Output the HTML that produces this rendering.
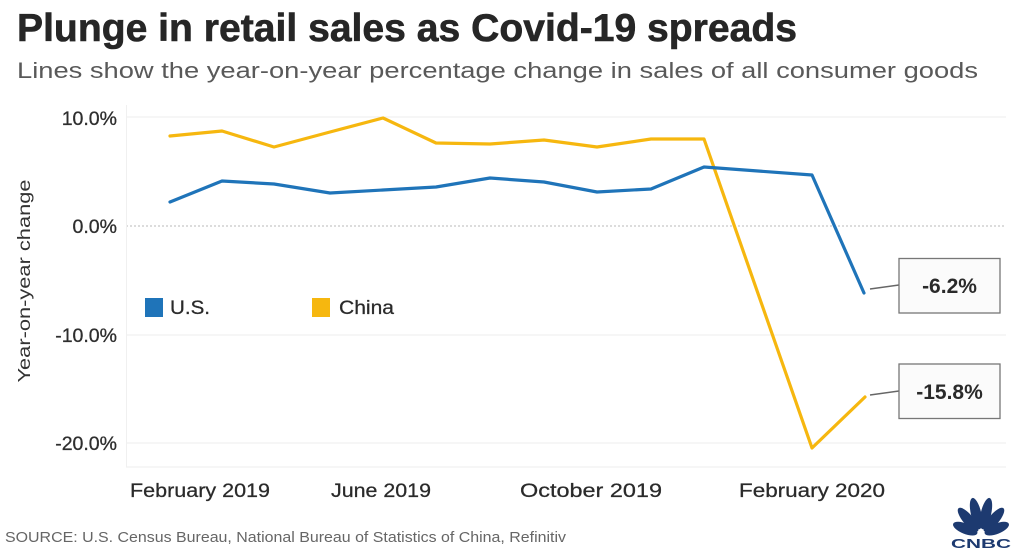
<!DOCTYPE html>
<html><head><meta charset="utf-8"><style>
html,body{margin:0;padding:0;background:#fff;}
svg{display:block;}
text{font-family:"Liberation Sans",Arial,sans-serif;}
</style></head><body>
<svg width="1024" height="555" viewBox="0 0 1024 555" xmlns="http://www.w3.org/2000/svg">
<rect width="1024" height="555" fill="#fff"/>
<!-- Title -->
<text x="17" y="41" font-size="38.5" font-weight="bold" fill="#262626" stroke="#262626" stroke-width="0.6" textLength="780" lengthAdjust="spacingAndGlyphs">Plunge in retail sales as Covid-19 spreads</text>
<text x="17" y="78" font-size="22" fill="#595959" textLength="961" lengthAdjust="spacingAndGlyphs">Lines show the year-on-year percentage change in sales of all consumer goods</text>

<!-- grid -->
<line x1="126" y1="117" x2="1006" y2="117" stroke="#ececec" stroke-width="1"/>
<line x1="126" y1="226" x2="1006" y2="226" stroke="#c8c8c8" stroke-width="1.2" stroke-dasharray="2,2"/>
<line x1="126" y1="335" x2="1006" y2="335" stroke="#ececec" stroke-width="1"/>
<line x1="126" y1="443" x2="1006" y2="443" stroke="#ececec" stroke-width="1"/>
<line x1="126" y1="467" x2="1006" y2="467" stroke="#ececec" stroke-width="1"/>
<line x1="126.5" y1="105" x2="126.5" y2="467" stroke="#f0f0f0" stroke-width="1"/>

<!-- y tick labels -->
<g font-size="19.5" fill="#2e2e2e" stroke="#2e2e2e" stroke-width="0.3" text-anchor="end">
<text x="117" y="125">10.0%</text>
<text x="117" y="233">0.0%</text>
<text x="117" y="342">-10.0%</text>
<text x="117" y="450">-20.0%</text>
</g>
<text transform="translate(30,281) rotate(-90)" font-size="17.5" fill="#333" text-anchor="middle" textLength="203" lengthAdjust="spacingAndGlyphs">Year-on-year change</text>

<!-- x labels -->
<g font-size="19" fill="#2a2a2a" stroke="#2a2a2a" stroke-width="0.25">
<text x="130" y="497" textLength="140" lengthAdjust="spacingAndGlyphs">February 2019</text>
<text x="331" y="497" textLength="100" lengthAdjust="spacingAndGlyphs">June 2019</text>
<text x="520" y="497" textLength="142" lengthAdjust="spacingAndGlyphs">October 2019</text>
<text x="739" y="497" textLength="146" lengthAdjust="spacingAndGlyphs">February 2020</text>
</g>

<!-- legend -->
<rect x="145" y="298" width="18" height="19" fill="#1f74b9"/>
<text x="170" y="314" font-size="19" fill="#2a2a2a" stroke="#2a2a2a" stroke-width="0.25" textLength="40" lengthAdjust="spacingAndGlyphs">U.S.</text>
<rect x="312" y="298" width="18" height="19" fill="#f6b70f"/>
<text x="339" y="314" font-size="19" fill="#2a2a2a" stroke="#2a2a2a" stroke-width="0.25" textLength="55" lengthAdjust="spacingAndGlyphs">China</text>

<!-- China -->
<polyline fill="none" stroke="#f6b70f" stroke-width="3.2" stroke-linejoin="round" stroke-linecap="round"
points="170,136 222,131 274,147 330,132 383,118 436,143 490,144 544,140 597,147 651,139 704,139 812,448 865,397"/>
<!-- US -->
<polyline fill="none" stroke="#1f74b9" stroke-width="3.2" stroke-linejoin="round" stroke-linecap="round"
points="170,202 222,181 274,184 330,193 383,190 436,187 490,178 544,182 597,192 651,189 704,167 758,171 812,175 864,293"/>

<!-- annotations -->
<line x1="870" y1="289" x2="899" y2="285" stroke="#666" stroke-width="1.5"/>
<rect x="899" y="258.5" width="101" height="54.5" fill="#fbfbfb" stroke="#777" stroke-width="1.3"/>
<text x="949.5" y="293" font-size="21" font-weight="bold" fill="#2a2a2a" text-anchor="middle">-6.2%</text>
<line x1="870" y1="395" x2="899" y2="391" stroke="#666" stroke-width="1.5"/>
<rect x="899" y="364" width="101" height="54.5" fill="#fbfbfb" stroke="#777" stroke-width="1.3"/>
<text x="949.5" y="399" font-size="21" font-weight="bold" fill="#2a2a2a" text-anchor="middle">-15.8%</text>

<!-- source -->
<text x="5" y="542" font-size="14.5" fill="#666" textLength="561" lengthAdjust="spacingAndGlyphs">SOURCE: U.S. Census Bureau, National Bureau of Statistics of China, Refinitiv</text>

<!-- CNBC logo -->
<g fill="#1d3a70">
<g transform="translate(981,535)">
<ellipse cx="0" cy="-17" rx="5.2" ry="13" transform="rotate(-68)"/>
<ellipse cx="0" cy="-20" rx="5.2" ry="15" transform="rotate(-40)"/>
<ellipse cx="0" cy="-22" rx="5.2" ry="16" transform="rotate(-13)"/>
<ellipse cx="0" cy="-22" rx="5.2" ry="16" transform="rotate(13)"/>
<ellipse cx="0" cy="-20" rx="5.2" ry="15" transform="rotate(40)"/>
<ellipse cx="0" cy="-17" rx="5.2" ry="13" transform="rotate(68)"/>
</g>
<text x="981" y="548" font-size="13" font-weight="bold" text-anchor="middle" textLength="60" lengthAdjust="spacingAndGlyphs">CNBC</text>
</g>
</svg>
</body></html>
